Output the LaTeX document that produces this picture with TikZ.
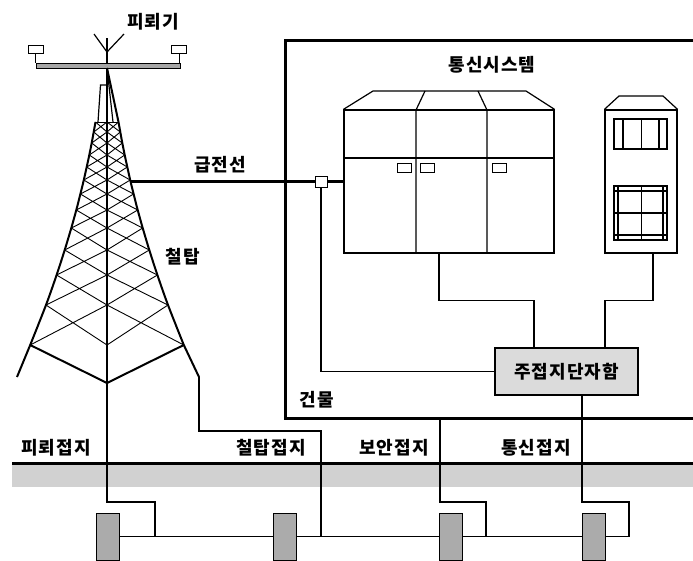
\documentclass[tikz,border=0pt]{standalone}
\usepackage{fontspec}
\newfontfamily\hfont[LetterSpace = 6]{Noto Sans CJK KR}
\usetikzlibrary{positioning}

\begin{document}
\begin{tikzpicture}[
    x = 1pt, y = -1pt,
    wire/.style = {line width = 1.2pt},
    heavy/.style = {line width = 3pt},
    leg/.style = {line width = 2pt},
    brace/.style = {line width = 0.9pt},
    lbl/.style = {font = \hfont\bfseries\fontsize{18}{20}\selectfont, inner sep = 0pt},
    tag/.style = {draw, fill = white, line width = 1pt, minimum width = 14pt, minimum height = 9pt, inner sep = 0pt},
    cab/.style = {draw, line width = 1.2pt, inner sep = 0pt},
    rod/.style = {draw, line width = 1pt, fill = black!33, minimum width = 23pt, minimum height = 47pt, inner sep = 0pt},
    mgbox/.style = {draw, line width = 1.3pt, fill = black!14, minimum width = 143pt, minimum height = 47pt, inner sep = 0pt, font = \hfont\bfseries\fontsize{18}{20}\selectfont},
    ]
    \useasboundingbox (0,0) rectangle (693,560);

    % soil
    \fill[black!18] (12,465) rectangle (693,487);
    \draw[heavy] (12,463) -- (693,463);

    % lightning rod on top
    \node[lbl] (arrester) at (153,22) {피뢰기};
    \node[draw, fill = black!35, line width = 1pt, minimum width = 144pt, minimum height = 5pt, inner sep = 0pt] (bar) at (108,65.5) {};
    \node[tag, minimum width = 15pt, minimum height = 8pt] (lampL) at (35.5,49) {};
    \node[tag, minimum width = 15pt, minimum height = 8pt] (lampR) at (179,49) {};
    \draw[brace] (lampL.south) -- (lampL.south |- bar.north);
    \draw[brace] (lampR.south) -- (lampR.south |- bar.north);
    \draw[wire] (94,34) -- (107,52) -- (124,34);
    \draw[wire] (107,38) -- (bar.north -| 107,0);

    % tower
    \coordinate (apex) at (107,68);
    \coordinate (vtx) at (107,383);
    \coordinate (lfoot) at (17,377);
    \coordinate (rfoot) at (199,377);
    \draw[wire] (98,122) -- (100.5,85) -- (107,85);
    \draw[wire] (apex) -- (113,122);
    \draw[brace] (95.5,122) -- (118.5,122);
    \foreach \ya/\da/\yb/\db in {122/11.5/132/13.3, 132/13.3/143/15.3, 143/15.3/155/17.7,
        155/17.7/167/20.3, 167/20.3/180/23.2, 180/23.2/194/26.6, 194/26.6/210/30.7,
        210/30.7/228/35.7, 228/35.7/250/42.3, 250/42.3/275/50.4, 275/50.4/305/61.0,
        305/61.0/345/76.8} {
        \draw[brace] (107-\da,\ya) -- (107,\yb) (107,\ya) -- (107-\db,\yb);
        \draw[brace] (107+\da,\ya) -- (107,\yb) (107,\ya) -- (107+\db,\yb);
    }
    \draw[leg] plot[smooth] coordinates {(95.5,122) (93.7,132) (91.7,143) (89.3,155)
        (86.7,167) (83.8,180) (80.4,194) (76.3,210) (71.3,228) (64.7,250) (56.6,275)
        (46,305) (30.2,345)} -- (lfoot);
    \draw[leg] (apex) -- plot[smooth] coordinates {(118.5,122) (120.3,132) (122.3,143)
        (124.7,155) (127.3,167) (130.2,180) (133.6,194) (137.7,210) (142.7,228)
        (149.3,250) (157.4,275) (168,305) (183.8,345)} -- (rfoot);
    \draw[leg] (30.2,345) -- (vtx) -- (183.8,345);
    \draw[wire] (apex) -- (vtx);
    \draw[leg] (vtx) -- (107,418);
    \node[lbl] (towerlbl) at (183,257) {철탑};

    % building
    \draw[heavy] (693,40) -- (285,40) -- (285,418) -- (693,418);
    \node[lbl] (building) at (317,400) {건물};
    \node[lbl] (system) at (492,65) {통신시스템};

    % equipment rack
    \node[cab, minimum width = 210pt, minimum height = 143pt] (rack) at (449,181.5) {};
    \draw[wire] (rack.north west) -- (373,91) -- (526,91) -- (rack.north east);
    \draw[wire] (425,91) -- (416,110) -- (416,253);
    \draw[wire] (478,91) -- (487,110) -- (487,253);
    \draw[wire] (rack.west |- 0,158) -- (rack.east |- 0,158);
    \node[tag] (led1) at (404,167.5) {};
    \node[tag] (led2) at (427,167.5) {};
    \node[tag] (led3) at (499,167.5) {};

    % side panel
    \node[cab, minimum width = 72pt, minimum height = 143pt] (panel) at (641,181.5) {};
    \draw[wire] (panel.north west) -- (619,96) -- (663,96) -- (panel.north east);
    \draw[wire] (614,119) rectangle (667,149);
    \draw[wire] (623,119) -- (623,149) (641.5,119) -- (641.5,149) (659,119) -- (659,149);
    \draw[wire] (614,186) rectangle (667,240);
    \draw[wire] (618,186) -- (618,240) (663,186) -- (663,240) (641.5,186) -- (641.5,240);
    \draw[wire] (614,191) -- (667,191) (614,235) -- (667,235) (614,213) -- (667,213);

    % feeder
    \node[lbl] (feederlbl) at (220,165) {급전선};
    \coordinate (feedtap) at (130.3,181.5);
    \node[tag, minimum width = 12pt, minimum height = 11pt] (feed) at (321,181.5) {};
    \draw[heavy] (feedtap) -- (feed.west) (feed.east) -- (rack.west);

    % main earthing terminal box
    \node[mgbox] (mgb) at (566.5,371.5) {주접지단자함};
    \draw[wire] ([xshift = -10pt]rack.south) -- ++(0,47) -| ([xshift = -32.5pt]mgb.north);
    \draw[wire] ([xshift = 12pt]panel.south) -- ++(0,47) -| ([xshift = 38.5pt]mgb.north);
    \draw[wire] (feed.south) |- (mgb.west);

    % earth electrodes
    \node[lbl] (g1) at (56,448) {피뢰접지};
    \node[lbl] (g2) at (271,448) {철탑접지};
    \node[lbl] (g3) at (394,448) {보안접지};
    \node[lbl] (g4) at (536,448) {통신접지};
    \node[rod] (rod1) at (107.5,536.5) {};
    \node[rod] (rod2) at (285,536.5) {};
    \node[rod] (rod3) at (451,536.5) {};
    \node[rod] (rod4) at (594,536.5) {};
    \coordinate (t1) at (155,536.5);
    \coordinate (t2) at (321,536.5);
    \coordinate (t3) at (486,536.5);
    \coordinate (t4) at (629,536.5);
    \coordinate (secure) at (440,418);
    \draw[wire] (rod1.east) -- (rod2.west) (rod2.east) -- (rod3.west)
        (rod3.east) -- (rod4.west) (rod4.east) -- (t4);
    \draw[wire] (107,418) -- (107,502) -| (t1);
    \draw[wire] (rfoot) -- (199,431) -| (t2);
    \draw[wire] (secure) -- (440,502) -| (t3);
    \draw[wire] ([xshift = 15.5pt]mgb.south) -- (582,502) -| (t4);
\end{tikzpicture}
\end{document}
